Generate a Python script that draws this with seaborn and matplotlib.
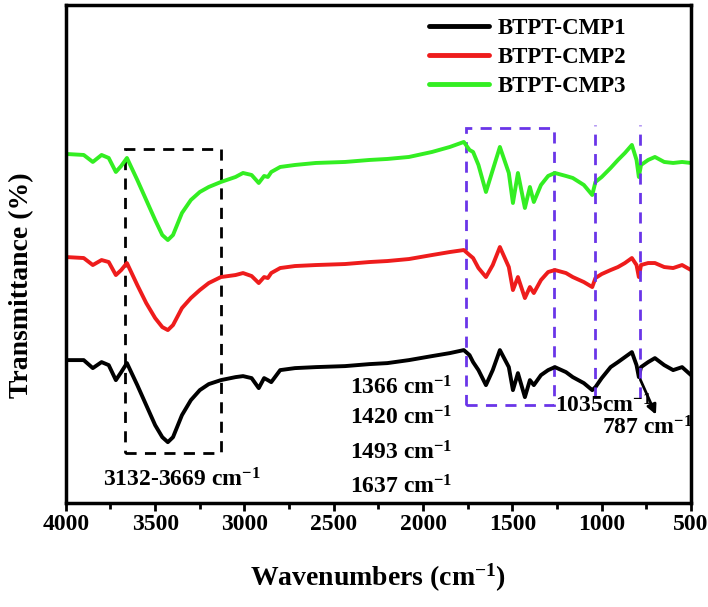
import numpy as np
import pandas as pd
import matplotlib
matplotlib.use("Agg")
import matplotlib.pyplot as plt
import seaborn as sns
from matplotlib.patches import Rectangle

wavenumber = [4000, 3900, 3849, 3800, 3760, 3720, 3690, 3658, 3600, 3550, 3500, 3460,
              3429, 3400, 3350, 3300, 3250, 3200, 3132, 3050, 3008, 2960, 2920, 2890,
              2869, 2850, 2800, 2717, 2600, 2437, 2300, 2200, 2079, 1950, 1850, 1772,
              1740, 1720, 1690, 1648, 1610, 1570, 1520, 1497, 1469, 1430, 1402, 1380,
              1340, 1300, 1262, 1200, 1162, 1100, 1053, 1035, 1000, 950, 909, 870,
              831, 805, 792, 780, 740, 702, 650, 600, 550, 500]

# transmittance (arbitrary, offset units)
cmp1 = [143, 143, 135, 141, 138, 123, 131, 140, 118, 98, 78, 66,
        61, 66, 88, 103, 113, 119, 123, 126, 127, 125, 115, 125,
        123, 121, 133, 135, 136, 137, 139, 140, 143, 147, 150, 153,
        148, 141, 133, 118, 133, 153, 136, 113, 130, 106, 123, 118,
        128, 133, 136, 131, 126, 120, 113, 116, 125, 136, 141, 146,
        151, 138, 126, 136, 141, 145, 138, 133, 136, 128]
cmp2 = [246, 245, 238, 243, 241, 228, 233, 240, 218, 200, 185, 176,
        173, 178, 195, 205, 213, 220, 226, 228, 230, 227, 220, 226,
        225, 230, 235, 237, 238, 239, 241, 242, 244, 248, 251, 253,
        248, 245, 235, 226, 238, 256, 236, 213, 226, 205, 216, 210,
        223, 231, 233, 230, 226, 221, 216, 225, 229, 233, 236, 240,
        245, 238, 226, 238, 240, 240, 236, 235, 238, 233]
cmp3 = [349, 348, 341, 348, 345, 331, 337, 345, 323, 303, 283, 268,
        263, 268, 290, 303, 311, 316, 321, 326, 330, 328, 320, 327,
        326, 331, 336, 338, 340, 341, 343, 344, 346, 351, 356, 361,
        353, 351, 338, 311, 333, 356, 330, 300, 330, 295, 316, 301,
        318, 327, 330, 327, 325, 318, 308, 321, 326, 335, 343, 350,
        358, 343, 326, 338, 343, 346, 341, 340, 341, 340]

labels = ["BTPT-CMP1", "BTPT-CMP2", "BTPT-CMP3"]
colors = ["#000000", "#ee1c1c", "#33ee22"]

df = pd.DataFrame({
    "wn": wavenumber * 3,
    "T": cmp1 + cmp2 + cmp3,
    "sample": [labels[0]] * len(wavenumber) + [labels[1]] * len(wavenumber) + [labels[2]] * len(wavenumber),
})

sns.set_theme(style="white")
plt.rcParams["font.family"] = ["Liberation Serif", "DejaVu Serif"]
plt.rcParams["font.weight"] = "bold"
plt.rcParams["mathtext.fontset"] = "custom"
plt.rcParams["mathtext.rm"] = "Liberation Serif:bold"
plt.rcParams["mathtext.it"] = "Liberation Serif:bold"
plt.rcParams["mathtext.bf"] = "Liberation Serif:bold"
plt.rcParams["mathtext.default"] = "rm"
for k in ["text.color", "axes.labelcolor", "xtick.color", "ytick.color"]:
    plt.rcParams[k] = "black"

SUP = "$^{-1}$"

fig = plt.figure(figsize=(7.08, 6.07), dpi=100)
ax = fig.add_axes([0.093, 0.171, 0.883, 0.821])

sns.lineplot(data=df, x="wn", y="T", hue="sample", palette=dict(zip(labels, colors)),
             linewidth=2.8, ax=ax, sort=False, estimator=None)

ax.set_xlim(4000, 500)
ax.set_ylim(0, 498)
ax.set_yticks([])
ax.set_xticks([4000, 3500, 3000, 2500, 2000, 1500, 1000, 500])
ax.set_xticks(np.arange(3750, 500, -500), minor=True)
ax.tick_params(axis="x", which="major", direction="out", length=6, width=2, bottom=True,
               labelsize=17, pad=2)
ax.tick_params(axis="x", which="minor", direction="out", length=4, width=2, bottom=True)
for lab in ax.get_xticklabels():
    lab.set_fontweight("bold")
for sp in ax.spines.values():
    sp.set_linewidth(2.5)
    sp.set_color("black")

ax.set_xlabel("Wavenumbers (cm" + SUP + ")", fontsize=20, fontweight="bold", labelpad=19)
ax.set_ylabel("Transmittance (%)", fontsize=20, fontweight="bold")
ax.yaxis.set_label_coords(-0.05, 0.438)

# dashed marker boxes
ax.add_patch(Rectangle((3669, 50), 3132 - 3669, 304, fill=False, ls=(0, (4, 3)),
                       lw=2, ec="black"))
purple = "#6a35e8"
ax.add_patch(Rectangle((1760, 98), 1268 - 1760, 277, fill=False, ls=(0, (4, 3)),
                       lw=2, ec=purple))
ax.plot([1035, 1035], [105, 378], ls=(0, (4, 3)), lw=2, color=purple)
ax.plot([787, 787], [105, 378], ls=(0, (4, 3)), lw=2, color=purple)

# peak annotations
kw = dict(fontsize=17, fontweight="bold", va="center")
ax.text(2410, 115, "1366 cm" + SUP, ha="left", **kw)
ax.text(2410, 85, "1420 cm" + SUP, ha="left", **kw)
ax.text(2410, 50, "1493 cm" + SUP, ha="left", **kw)
ax.text(2410, 16, "1637 cm" + SUP, ha="left", **kw)
ax.text(3350, 23, "3132-3669 cm" + SUP, ha="center", **kw)
ax.text(1262, 97, "1035cm" + SUP, ha="left", **kw)
ax.text(998, 75, "787 cm" + SUP, ha="left", **kw)
ax.annotate("", xy=(690, 86), xytext=(790, 126),
            arrowprops=dict(arrowstyle="-|>", color="black", lw=2, mutation_scale=14))

leg = ax.legend(loc="upper right", bbox_to_anchor=(0.93, 1.015), frameon=False,
                fontsize=16.5, handlelength=2.6, handletextpad=0.4, labelspacing=0.35)
for t in leg.get_texts():
    t.set_fontweight("bold")
for h in leg.get_lines():
    h.set_linewidth(3.5)

fig.savefig("out.png", dpi=100)
